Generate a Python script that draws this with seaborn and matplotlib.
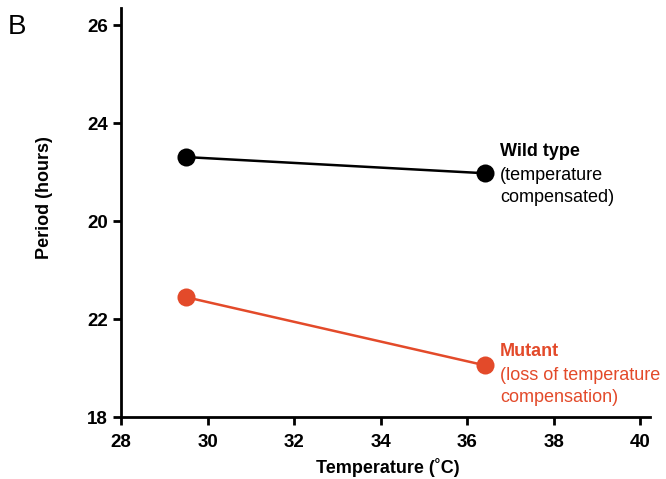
import pandas as pd
import matplotlib
matplotlib.use('Agg')
import matplotlib.pyplot as plt
import seaborn as sns

# values (axis units, ticks are evenly spaced 18..26)
strains = ['Wild type', 'Wild type', 'Mutant', 'Mutant']
temperature = [29.5, 36.4, 29.5, 36.4]
period = [23.31, 22.98, 20.45, 19.06]

x_ticks = [28, 30, 32, 34, 36, 38, 40]
y_ticks = [18, 20, 22, 24, 26]
y_tick_labels = ['18', '22', '20', '24', '26']  # labels as printed on the original

red = '#E34A2A'
palette = {'Wild type': 'black', 'Mutant': red}

df = pd.DataFrame({'strain': strains, 'temperature': temperature, 'period': period})

sns.set_style('ticks')
plt.rcParams['font.family'] = ['Liberation Sans', 'DejaVu Sans']
plt.rcParams['text.color'] = 'black'
plt.rcParams['axes.labelcolor'] = 'black'
plt.rcParams['xtick.color'] = 'black'
plt.rcParams['ytick.color'] = 'black'

fig = plt.figure(figsize=(6.66, 4.79), dpi=100)
ax = fig.add_axes([0.182, 0.129, 0.794, 0.854])

sns.lineplot(data=df, x='temperature', y='period', hue='strain', palette=palette,
             marker='o', markersize=13, markeredgewidth=0, linewidth=1.8,
             legend=False, ax=ax)
for l in ax.lines:
    l.set_clip_on(False)

ax.set_xlim(28, 40.22)
ax.set_ylim(18, 26.35)
ax.set_xticks(x_ticks)
ax.set_yticks(y_ticks)
ax.set_yticklabels(y_tick_labels)
for lab in ax.get_xticklabels() + ax.get_yticklabels():
    lab.set_fontweight('bold')
ax.tick_params(axis='both', labelsize=13.5, width=2, length=6)
ax.tick_params(axis='x', pad=6)
sns.despine(ax=ax)
for s in ['left', 'bottom']:
    ax.spines[s].set_linewidth(2)
    ax.spines[s].set_color('black')

ax.set_xlabel('Temperature (˚C)', fontsize=13, fontweight='bold', va='center')
ax.xaxis.set_label_coords(0.505, -0.122)
ax.set_ylabel('Period (hours)', fontsize=13, fontweight='bold')
ax.yaxis.set_label_coords(-0.129, 0.538)

# annotations next to the right-hand points
ax.text(36.75, 23.6, 'Wild type', fontsize=13, fontweight='bold', va='top')
ax.text(36.75, 23.11, '(temperature\ncompensated)', fontsize=13, va='top', linespacing=1.4)
ax.text(36.75, 19.52, 'Mutant', fontsize=13, fontweight='bold', color=red, va='top')
ax.text(36.75, 19.03, '(loss of temperature\ncompensation)', fontsize=13, color=red,
        va='top', linespacing=1.4)

fig.text(0.012, 0.97, 'B', fontsize=20, va='top')

fig.savefig('out.png', dpi=100)
